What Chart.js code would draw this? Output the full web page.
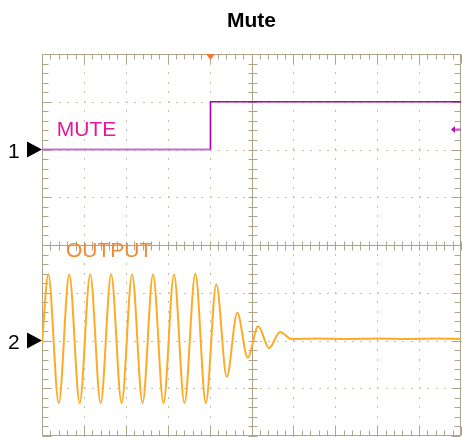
<!DOCTYPE html>
<html>
<head>
<meta charset="utf-8">
<script src="https://cdn.jsdelivr.net/npm/chart.js@4"></script>
<style>
  body { margin: 0; background: #ffffff; }
  canvas { display: block; }
</style>
</head>
<body>
<canvas id="scope" width="462" height="437"></canvas>
<script>
// Screen is 10 x 8 divisions, values below are in divisions
const muteX = [0, 4.02, 4.02, 10];
const muteY = [2.0, 2.0, 3.0, 3.0];

const outX = [0, 0.15, 0.40, 0.65, 0.90, 1.15, 1.40, 1.65, 1.90, 2.15, 2.40, 2.65, 2.90, 3.15, 3.40, 3.66, 3.91,
  4.16, 4.41, 4.66, 4.91, 5.16, 5.42, 5.68, 5.96, 6.6, 7.3, 8.0, 8.7, 9.4, 10];
const outY = [-2.05, -0.62, -3.31, -0.62, -3.31, -0.62, -3.31, -0.62, -3.31, -0.62, -3.31, -0.62, -3.31, -0.62, -3.31, -0.60, -3.31,
  -0.82, -2.76, -1.42, -2.36, -1.70, -2.16, -1.82, -1.97, -1.96, -1.97, -1.96, -1.97, -1.96, -1.97];

const xDivs = [0, 1, 2, 3, 4, 5, 6, 7, 8, 9, 10];
const yDivs = [-4, -3, -2, -1, 0, 1, 2, 3, 4];

const gridColor = '#aea48a';
const dotColor = '#c6bea8';

function toPoints(xs, ys) {
  return xs.map((x, i) => ({ x: x, y: ys[i] }));
}

// Scope graticule: border, dotted divisions, centre cross with ticks
const graticule = {
  id: 'graticule',
  beforeDatasetsDraw(chart) {
    const { ctx, chartArea: a, scales: { x, y } } = chart;
    ctx.save();
    ctx.fillStyle = dotColor;
    xDivs.forEach(d => {
      if (d === 0 || d === 5 || d === 10) return;
      const px = Math.round(x.getPixelForValue(d));
      for (let s = -4; s <= 4; s += 0.2) {
        ctx.fillRect(px, Math.round(y.getPixelForValue(s)) - 1, 1, 2);
      }
    });
    yDivs.forEach(d => {
      if (d === -4 || d === 0 || d === 4) return;
      const py = Math.round(y.getPixelForValue(d));
      for (let s = 0; s <= 10; s += 0.2) {
        ctx.fillRect(Math.round(x.getPixelForValue(s)), py, 2, 1);
      }
    });

    ctx.strokeStyle = gridColor;
    ctx.lineWidth = 1;
    const cx = Math.round(x.getPixelForValue(5)) + 0.5;
    const cy = Math.round(y.getPixelForValue(0)) + 0.5;
    const left = Math.round(a.left) + 0.5, right = Math.round(a.right) - 0.5;
    const top = Math.round(a.top) + 0.5, bottom = Math.round(a.bottom) - 0.5;
    ctx.beginPath();
    ctx.moveTo(left, cy); ctx.lineTo(right, cy);
    ctx.moveTo(cx, top); ctx.lineTo(cx, bottom);
    ctx.rect(left, top, right - left, bottom - top);

    // ticks every fifth of a division
    for (let i = 0; i <= 50; i++) {
      const px = Math.round(x.getPixelForValue(i / 5)) + 0.5;
      const len = i % 5 === 0 ? 9 : 5;
      ctx.moveTo(px, top); ctx.lineTo(px, top + len);
      ctx.moveTo(px, bottom); ctx.lineTo(px, bottom - len);
      ctx.moveTo(px, cy - 4); ctx.lineTo(px, cy + 5);
    }
    for (let i = 0; i <= 40; i++) {
      const py = Math.round(y.getPixelForValue(-4 + i / 5)) + 0.5;
      const len = i % 5 === 0 ? 9 : 6;
      ctx.moveTo(left, py); ctx.lineTo(left + len, py);
      ctx.moveTo(right, py); ctx.lineTo(right - len, py);
      ctx.moveTo(cx - 4, py); ctx.lineTo(cx + 5, py);
    }
    ctx.stroke();
    ctx.restore();
  },
  afterDraw(chart) {
    const { ctx, chartArea: a, scales: { x, y } } = chart;
    ctx.save();
    // title
    ctx.fillStyle = '#000000';
    ctx.font = 'bold 21px "Liberation Sans", Arial, sans-serif';
    ctx.textAlign = 'center';
    ctx.textBaseline = 'alphabetic';
    ctx.fillText('Mute', (a.left + a.right) / 2, 27);

    // channel labels
    ctx.textAlign = 'left';
    ctx.font = '21px "Liberation Sans", Arial, sans-serif';
    ctx.fillStyle = '#e0189c';
    ctx.fillText('MUTE', x.getPixelForValue(0.35), y.getPixelForValue(2.29));
    ctx.fillStyle = '#f28a34';
    ctx.fillText('OUTPUT', x.getPixelForValue(0.57), y.getPixelForValue(-0.26));

    // ground markers
    ctx.fillStyle = '#000000';
    [[2, '1'], [-2, '2']].forEach(([lvl, label]) => {
      const py = y.getPixelForValue(lvl);
      ctx.font = '21px "Liberation Sans", Arial, sans-serif';
      ctx.fillText(label, 8, py + 8);
      ctx.beginPath();
      ctx.moveTo(a.left, py);
      ctx.lineTo(a.left - 15, py - 8);
      ctx.lineTo(a.left - 15, py + 8);
      ctx.closePath();
      ctx.fill();
    });

    // trigger position
    const tx = x.getPixelForValue(muteX[1]);
    ctx.fillStyle = '#ff7433';
    ctx.beginPath();
    ctx.moveTo(tx - 4.5, a.top);
    ctx.lineTo(tx + 4.5, a.top);
    ctx.lineTo(tx, a.top + 6);
    ctx.closePath();
    ctx.fill();

    // trigger level arrow
    const ly = y.getPixelForValue(2.42);
    ctx.strokeStyle = '#c866cc';
    ctx.lineWidth = 2;
    ctx.beginPath();
    ctx.moveTo(a.right - 8, ly); ctx.lineTo(a.right, ly);
    ctx.stroke();
    ctx.fillStyle = '#b010b0';
    ctx.beginPath();
    ctx.moveTo(a.right - 10, ly);
    ctx.lineTo(a.right - 6, ly - 3.5);
    ctx.lineTo(a.right - 6, ly + 3.5);
    ctx.closePath();
    ctx.fill();
    ctx.restore();
  }
};

new Chart(document.getElementById('scope'), {
  type: 'line',
  data: {
    datasets: [
      {
        label: 'MUTE',
        data: toPoints(muteX, muteY),
        borderColor: '#b000b4',
        borderWidth: 1.6,
        pointRadius: 0,
        tension: 0,
        segment: {
          borderColor: c => (c.p0.parsed.y < 2.5 && c.p1.parsed.y < 2.5) ? '#c070c8' : '#b000b4',
          borderWidth: c => (c.p0.parsed.y < 2.5 && c.p1.parsed.y < 2.5) ? 2.2 : 1.6
        }
      },
      {
        label: 'OUTPUT',
        data: toPoints(outX, outY),
        borderColor: '#fdab26',
        borderWidth: 2,
        pointRadius: 0,
        cubicInterpolationMode: 'monotone'
      }
    ]
  },
  options: {
    responsive: false,
    animation: false,
    devicePixelRatio: 1,
    layout: { padding: { left: 42, top: 54, right: 1, bottom: 1 } },
    plugins: {
      legend: { display: false },
      title: { display: false },
      tooltip: { enabled: false }
    },
    scales: {
      x: { type: 'linear', min: 0, max: 10, display: false },
      y: { type: 'linear', min: -4, max: 4, display: false }
    }
  },
  plugins: [graticule]
});
</script>
</body>
</html>
